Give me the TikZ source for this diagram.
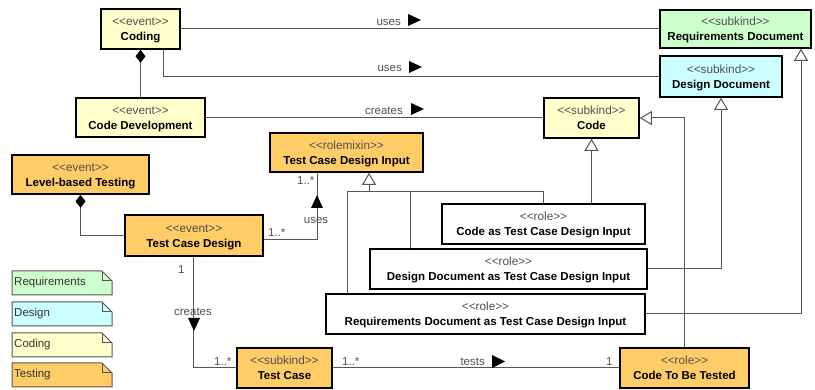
\documentclass[tikz,border=0pt]{standalone}
\usepackage{fontspec}
\setmainfont{Liberation Sans}
\usetikzlibrary{arrows.meta,calc}
\definecolor{cyel}{RGB}{255,255,204}
\definecolor{cgrn}{RGB}{204,255,204}
\definecolor{ccyn}{RGB}{204,255,255}
\definecolor{corg}{RGB}{255,204,102}
\definecolor{stgray}{RGB}{80,80,80}
\definecolor{lgray}{RGB}{85,85,85}
\newcommand\stereo[1]{<{}<#1>{}>}
\newcommand\ubox[8]{%
  \node[umlbox, fill=#6, minimum width={#4-#2}, minimum height={#5-#3}] (#1) at ({(#2+#4)/2},{(#3+#5)/2}) {};
  \node[sttxt, anchor=base] (#1-s) at ([yshift=3pt]#1.center) {\stereo{#7}};
  \node[nmtxt, anchor=base] (#1-n) at ([yshift=-12pt]#1.center) {#8};}
\newcommand\unote[4]{%
  \draw[notebox, fill=#3] (12,#2) -- (102,#2) -- (112,#2+10) -- (112,#2+24) -- (12,#2+24) -- cycle;
  \draw[notebox] (102,#2) -- (102,#2+10) -- (112,#2+10);
  \node[notetxt, anchor=west] (#1) at (14,#2+12) {#4};}
\tikzset{
  umlbox/.style={draw=black, line width=1.6pt, inner sep=0pt},
  sttxt/.style={text=stgray, inner sep=0pt, font=\fontsize{11.8}{14}\selectfont},
  nmtxt/.style={text=black, inner sep=0pt, font=\fontsize{11.5}{14}\selectfont\bfseries},
  conn/.style={draw=lgray, line width=1pt},
  gen/.style={conn, -{Triangle[length=12pt,width=14pt,fill=white]}},
  comp/.style={conn, {Diamond[length=13pt,width=10pt,fill=black,color=black]}-},
  lbl/.style={text=stgray, font=\fontsize{11.5}{13}\selectfont, inner sep=0pt},
  notebox/.style={draw=lgray, line width=1pt},
  notetxt/.style={text=black!80, font=\fontsize{11.5}{13}\selectfont, inner sep=0pt},
  dirtri/.style={fill=black},
}
\begin{document}
\begin{tikzpicture}[x=1pt,y=-1pt]
\useasboundingbox (0,0) rectangle (815,390);
% boxes
\ubox{coding}{101}{9}{180}{49}{cyel}{event}{Coding}
\ubox{reqdoc}{660}{10}{811}{48}{cgrn}{subkind}{Requirements Document}
\ubox{desdoc}{660}{56}{782}{97}{ccyn}{subkind}{Design Document}
\ubox{codedev}{76}{98}{205}{137}{cyel}{event}{Code Development}
\ubox{code}{544}{98}{639}{138}{cyel}{subkind}{Code}
\ubox{tcdi}{270}{133}{423}{172}{corg}{rolemixin}{Test Case Design Input}
\ubox{lbt}{12}{155}{149}{194}{corg}{event}{Level-based Testing}
\ubox{tcd}{125}{215}{263}{256}{corg}{event}{Test Case Design}
\ubox{codetcdi}{442}{204}{645}{244}{white}{role}{Code as Test Case Design Input}
\ubox{ddtcdi}{370}{249}{647}{289}{white}{role}{Design Document as Test Case Design Input}
\ubox{rdtcdi}{326}{294}{645}{334}{white}{role}{Requirements Document as Test Case Design Input}
\ubox{tc}{237}{348}{332}{388}{corg}{subkind}{Test Case}
\ubox{ctbt}{620}{348}{749}{388}{corg}{role}{Code To Be Tested}
% legend notes
\unote{nreq}{271}{cgrn}{Requirements}
\unote{ndes}{302}{ccyn}{Design}
\unote{ncod}{333}{cyel}{Coding}
\unote{ntst}{363}{corg}{Testing}
% associations
\draw[conn] (coding.east) -- (coding.east -| reqdoc.west);
\node[lbl, anchor=base east] (l1) at (401,25.5) {uses};
\fill[dirtri] (408,14) -- (421,20) -- (408,26) -- cycle;
\draw[conn] ([xshift=22.5pt]coding.south) |- (desdoc.west);
\node[lbl, anchor=base east] (l2) at (402,71.5) {uses};
\fill[dirtri] (409,61) -- (422,67) -- (409,73) -- cycle;
\draw[conn] (codedev.east) -- (codedev.east -| code.west);
\node[lbl, anchor=base east] (l3) at (403,114.5) {creates};
\fill[dirtri] (411,103) -- (424,109) -- (411,115) -- cycle;
\draw[comp] (coding.south) -- (coding.south |- codedev.north);
\draw[comp] (lbt.south) |- (tcd.west);
% tcd uses tcdi
\draw[conn] ([yshift=-4.5pt]tcd.east) -| ([xshift=-29.5pt]tcdi.south);
\fill[dirtri] (311,208) -- (317,195) -- (323,208) -- cycle;
\node[lbl, anchor=base] (l4) at (316,224) {uses};
\node[lbl, anchor=base west] (m1) at (297,185) {1..*};
\node[lbl, anchor=base west] (m2) at (268,237) {1..*};
% tcd creates tc
\draw[conn] ([xshift=-0.5pt]tcd.south) |- (tc.west);
\fill[dirtri] (188,318) -- (200,318) -- (194,331) -- cycle;
\node[lbl, anchor=base] (l5) at (193,316) {creates};
\node[lbl, anchor=base west] (m3) at (178,274) {1};
\node[lbl, anchor=base west] (m4) at (214,366) {1..*};
% tc tests ctbt
\draw[conn] (tc.east) -- (ctbt.west);
\node[lbl, anchor=base east] (l6) at (485,366) {tests};
\fill[dirtri] (492,355) -- (505,361.5) -- (492,368) -- cycle;
\node[lbl, anchor=base west] (m5) at (342,366) {1..*};
\node[lbl, anchor=base west] (m6) at (606,366) {1};
% generalizations
\coordinate (gj) at (369,192);
\draw[conn] ([xshift=-98.5pt]ddtcdi.north) |- (gj);
\draw[conn] ([xshift=-138.5pt]rdtcdi.north) |- (gj);
\draw[gen] (codetcdi.north) |- (gj) -- (gj |- tcdi.south);
\draw[gen] (code.south |- codetcdi.north) -- (code.south);
\draw[gen] (ddtcdi.east) -| (desdoc.south);
\draw[gen] (rdtcdi.east) -| ([xshift=65.5pt]reqdoc.south);
\draw[gen] (ctbt.north) |- (code.east);
\end{tikzpicture}
\end{document}
